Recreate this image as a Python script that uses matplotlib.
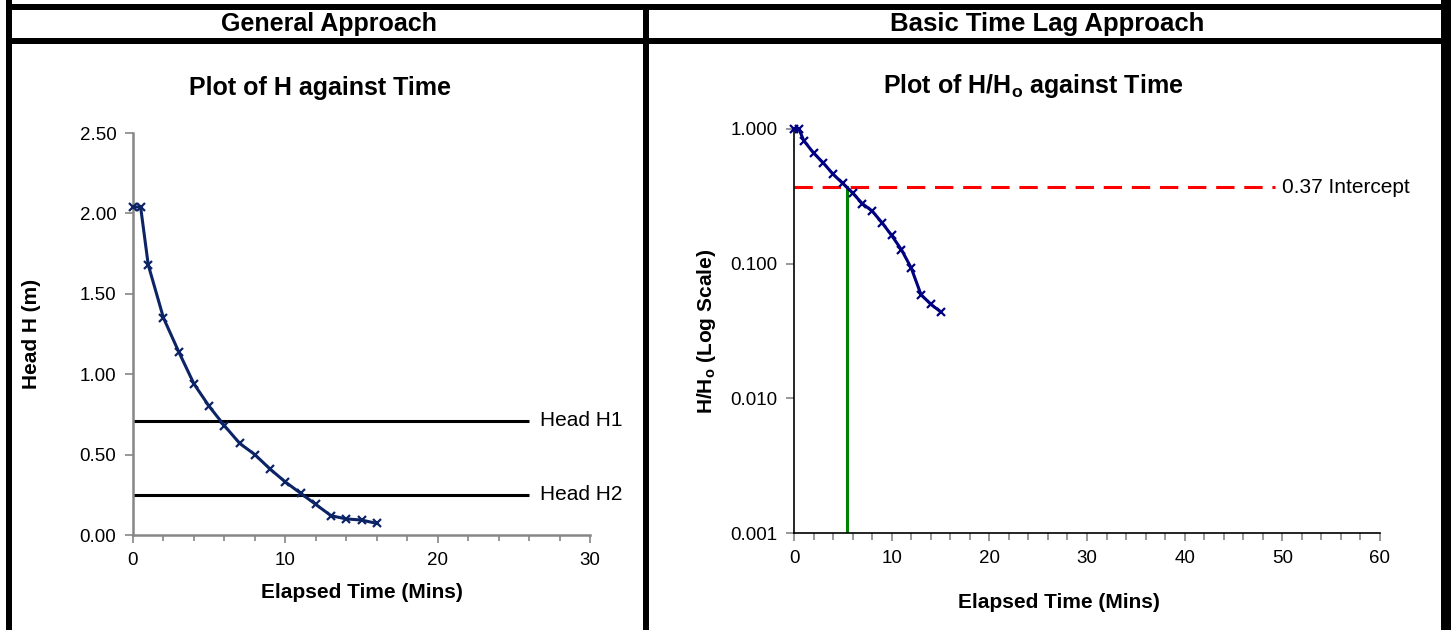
import matplotlib
matplotlib.use("Agg")
import matplotlib.pyplot as plt
from matplotlib.patches import Rectangle
from matplotlib.ticker import FixedLocator, MultipleLocator, FixedFormatter, NullLocator

plt.rcParams['font.family'] = ['Liberation Sans', 'DejaVu Sans']
plt.rcParams['mathtext.fontset'] = 'custom'
plt.rcParams['mathtext.rm'] = 'Liberation Sans'
plt.rcParams['mathtext.bf'] = 'Liberation Sans:bold'

# ---------------- data ----------------
time_h = [0, 0.5, 1, 2, 3, 4, 5, 6, 7, 8, 9, 10, 11, 12, 13, 14, 15, 16]
head_h = [2.04, 2.04, 1.68, 1.35, 1.14, 0.94, 0.80, 0.68, 0.57, 0.50, 0.41,
          0.33, 0.26, 0.19, 0.12, 0.10, 0.093, 0.072]
head_lines = [0.71, 0.25]
head_line_labels = ["Head H1", "Head H2"]
head_line_end = 26

time_r = [0, 0.5, 1, 2, 3, 4, 5, 6, 7, 8, 9, 10, 11, 12, 13, 14, 15]
ratio_r = [1.0, 1.0, 0.82, 0.664, 0.56, 0.462, 0.394, 0.335, 0.279, 0.246,
           0.202, 0.162, 0.127, 0.093, 0.059, 0.050, 0.044]
intercept = 0.37
intercept_end = 49.2
intercept_label = "0.37 Intercept"
t0_time = 5.4

left_yticks = [0.0, 0.5, 1.0, 1.5, 2.0, 2.5]
left_ylabels = ["0.00", "0.50", "1.00", "1.50", "2.00", "2.50"]
left_xticks = [0, 10, 20, 30]
right_yticks = [0.001, 0.01, 0.1, 1.0]
right_ylabels = ["0.001", "0.010", "0.100", "1.000"]
right_xticks = [0, 10, 20, 30, 40, 50, 60]

headers = ["General Approach", "Basic Time Lag Approach"]

W, H = 1451, 630
fig = plt.figure(figsize=(W / 100, H / 100), dpi=100)


def fx(px):
    return px / W


def fy(py):
    return 1 - py / H


def rect(x0, y0, x1, y1):
    fig.add_artist(Rectangle((fx(x0), fy(y1)), fx(x1) - fx(x0), fy(y0) - fy(y1),
                             transform=fig.transFigure, facecolor='black',
                             edgecolor='none'))


# table borders
rect(6, 4, 1451, 10)
rect(6, 38, 1451, 44)
rect(6, 0, 12, 630)
rect(643, 4, 649, 630)
rect(1441, 0, 1451, 630)

fig.text(fx(329), fy(24), headers[0], ha='center', va='center',
         fontsize=18, fontweight='bold')
fig.text(fx(1047), fy(24), headers[1], ha='center', va='center',
         fontsize=18.5, fontweight='bold')

gray = '#868686'
TICK_FS = 13.5
LABEL_FS = 15

# ---------------- left chart ----------------
axL = fig.add_axes([fx(133), fy(535), fx(590) - fx(133), fy(133) - fy(535)])
axL.set_xlim(0, 30)
axL.set_ylim(0, 2.5)
for s in ['top', 'right']:
    axL.spines[s].set_visible(False)
for s in ['left', 'bottom']:
    axL.spines[s].set_color(gray)
    axL.spines[s].set_linewidth(1.8)
axL.xaxis.set_major_locator(FixedLocator(left_xticks))
axL.xaxis.set_minor_locator(MultipleLocator(2))
axL.yaxis.set_major_locator(FixedLocator(left_yticks))
axL.yaxis.set_major_formatter(FixedFormatter(left_ylabels))
axL.tick_params(axis='both', which='both', direction='out', color=gray,
                width=1.2, labelsize=TICK_FS)
axL.tick_params(axis='both', which='major', length=6, pad=6)
axL.tick_params(axis='x', which='minor', length=4)
axL.tick_params(axis='y', which='minor', length=0)

for hv, lab in zip(head_lines, head_line_labels):
    axL.plot([0, head_line_end], [hv, hv], color='black', lw=2.2,
             solid_capstyle='butt', clip_on=False, zorder=2)
    axL.text(26.7, hv, lab, fontsize=LABEL_FS, va='center', ha='left')

axL.plot(time_h, head_h, color='#0c2466', lw=2.2, marker='x', ms=6, mew=1.6,
         zorder=3, clip_on=False)
axL.set_title("Plot of H against Time", fontsize=18, fontweight='bold', pad=27,
              x=0.409)
axL.set_xlabel("Elapsed Time (Mins)", fontsize=LABEL_FS, fontweight='bold',
               labelpad=10)
axL.set_ylabel("Head H (m)", fontsize=LABEL_FS, fontweight='bold', labelpad=28)

# ---------------- right chart ----------------
axR = fig.add_axes([fx(794), fy(533), fx(1380) - fx(794), fy(129) - fy(533)])
axR.set_yscale('log')
axR.set_xlim(0, 60)
axR.set_ylim(0.001, 1.0)
for s in ['top', 'right']:
    axR.spines[s].set_visible(False)
for s in ['left', 'bottom']:
    axR.spines[s].set_color('black')
    axR.spines[s].set_linewidth(1.2)
axR.xaxis.set_major_locator(FixedLocator(right_xticks))
axR.xaxis.set_minor_locator(MultipleLocator(2))
axR.yaxis.set_major_locator(FixedLocator(right_yticks))
axR.yaxis.set_major_formatter(FixedFormatter(right_ylabels))
axR.yaxis.set_minor_locator(NullLocator())
axR.tick_params(axis='both', which='both', direction='out', color=gray,
                width=1.2, labelsize=TICK_FS)
axR.tick_params(axis='both', which='major', length=6, pad=6)
axR.tick_params(axis='x', which='minor', length=5)

axR.plot([0, intercept_end], [intercept, intercept], color='#ff0000', lw=2.2,
         dashes=(6, 3.2), zorder=2)
axR.text(intercept_end + 0.8, intercept, intercept_label, fontsize=LABEL_FS,
         va='center', ha='left')
axR.plot([t0_time, t0_time], [0.001, intercept], color='#008000', lw=2.2,
         zorder=2)
axR.plot(time_r, ratio_r, color='#000080', lw=2.2, marker='x', ms=6, mew=1.6,
         zorder=3, clip_on=False)
axR.set_title("Plot of H/H$_\\mathbf{o}$ against Time", fontsize=18,
              fontweight='bold', pad=26, x=0.408)
axR.set_xlabel("Elapsed Time (Mins)", fontsize=LABEL_FS, fontweight='bold',
               labelpad=19, x=0.452)
axR.set_ylabel("H/H$_\\mathbf{o}$ (Log Scale)", fontsize=LABEL_FS,
               fontweight='bold', labelpad=9)

fig.savefig("out.png", dpi=100)
